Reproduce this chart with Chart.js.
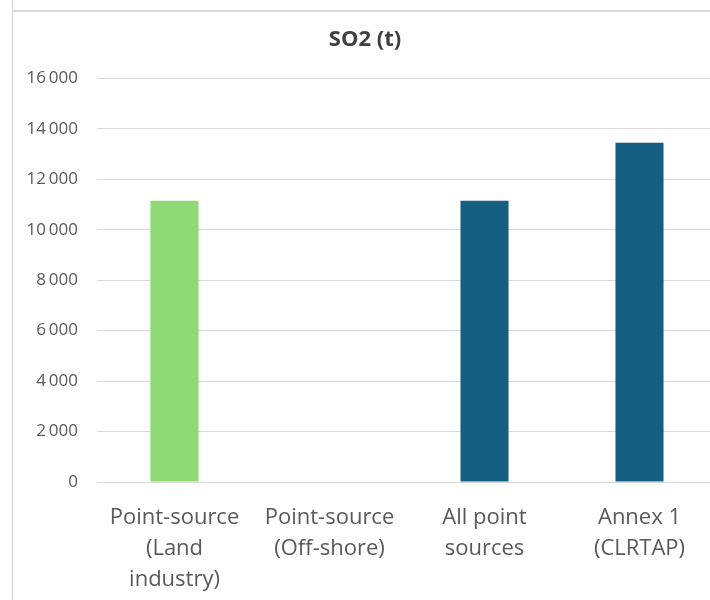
<!DOCTYPE html>
<html>
<head>
<meta charset="utf-8">
<script src="https://cdn.jsdelivr.net/npm/chart.js@4.4.1/dist/chart.umd.min.js"></script>
<style>
  html, body { margin: 0; padding: 0; background: #ffffff; overflow: hidden; }
  body { width: 710px; height: 600px; position: relative; }
  /* frame of the chart box, cut at the right and bottom */
  .frame {
    position: absolute; left: 12px; top: 10px; width: 740px; height: 620px;
    border-left: 1px solid #d4d4d4; border-top: 2px solid #d9d9d9;
    box-shadow: 0 1px 1px rgba(0,0,0,0.06);
  }
  .edge { position: absolute; left: 12px; top: 0; width: 1px; height: 10px; background: #d4d4d4; }
  #wrap { position: absolute; left: 13px; top: 12px; width: 720px; height: 588px; }
</style>
</head>
<body>
<div class="edge"></div>
<div class="frame"></div>
<div id="wrap"><canvas id="so2-chart"></canvas></div>
<script>
// SO2 emissions by source group, tonnes
const categories = [
    ['Point-source', '(Land', 'industry)'],
    ['Point-source', '(Off-shore)'],
    ['All point', 'sources'],
    ['Annex 1', '(CLRTAP)']
];
const so2Values = [11150, 0, 11150, 13450];
const barColors = ['#8ED973', '#156082', '#156082', '#156082'];

const Y_MAX = 16000;
const Y_STEP = 2000;

// "16 000" style thousands separator
const formatTick = (v) => {
    const s = String(Math.round(v));
    return s.replace(/\B(?=(\d{3})+(?!\d))/g, '\u2009');
};

const FONT = "'Open Sans', 'Liberation Sans', sans-serif";

new Chart(document.getElementById('so2-chart').getContext('2d'), {
    type: 'bar',
    data: {
        labels: categories,
        datasets: [{
            label: 'SO2 (t)',
            data: so2Values,
            backgroundColor: barColors,
            borderWidth: 0,
            barPercentage: 0.31,
            categoryPercentage: 1
        }]
    },
    options: {
        responsive: true,
        maintainAspectRatio: false,
        animation: false,
        layout: { padding: { left: 0, right: 16, top: 0, bottom: 0 } },
        plugins: {
            legend: { display: false },
            tooltip: { enabled: false },
            title: {
                display: true,
                text: 'SO2 (t)',
                color: '#404040',
                font: { family: FONT, size: 22, weight: 'bold' },
                padding: { top: 15, bottom: 25 }
            }
        },
        scales: {
            x: {
                grid: { display: false, drawTicks: false },
                border: { display: true, color: '#d9d9d9', width: 1 },
                ticks: {
                    color: '#595959',
                    font: { family: FONT, size: 22, lineHeight: 1.41 },
                    padding: 20,
                    maxRotation: 0,
                    autoSkip: false
                },
                afterFit: (scale) => { scale.height = 118; }
            },
            y: {
                min: 0,
                max: Y_MAX,
                grid: { color: '#d9d9d9', lineWidth: 1, drawTicks: false },
                border: { display: false },
                ticks: {
                    stepSize: Y_STEP,
                    color: '#595959',
                    font: { family: FONT, size: 17 },
                    padding: 19,
                    callback: formatTick
                },
                afterFit: (scale) => { scale.width = 84; }
            }
        }
    }
});
</script>
</body>
</html>
